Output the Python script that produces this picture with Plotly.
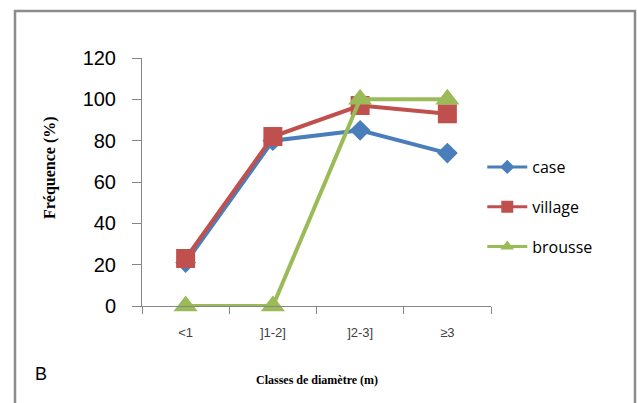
import plotly.graph_objects as go

# Diameter classes and frequency (%) per habitat
categories = ["<1", "]1-2]", "]2-3]", "≥3"]
case = [21, 80, 85, 74]
village = [23, 82, 97, 93]
brousse = [0, 0, 100, 100]

fig = go.Figure()

series = [
    ("case", case, "#4A7EBB", "diamond", 16, 11),
    ("village", village, "#C0504D", "square", 19, 12),
    ("brousse", brousse, "#9BBB59", "triangle-up", 21, 12),
]
for name, vals, color, symbol, msize, lsize in series:
    fig.add_trace(go.Scatter(
        x=categories, y=vals, name=name, legendgroup=name, showlegend=False,
        mode="lines+markers", cliponaxis=False,
        line=dict(color=color, width=4),
        marker=dict(symbol=symbol, size=msize, color=color),
    ))
    # legend entry with smaller symbol
    fig.add_trace(go.Scatter(
        x=[None], y=[None], name=name, legendgroup=name, showlegend=True,
        mode="lines+markers",
        line=dict(color=color, width=3),
        marker=dict(symbol=symbol, size=lsize, color=color),
    ))

axis_gray = "#868686"
fig.update_layout(
    width=637, height=403,
    margin=dict(l=142, r=146, t=58, b=97),
    paper_bgcolor="white", plot_bgcolor="white",
    showlegend=True,
    legend=dict(
        x=0.975, y=(306 - 207) / 248, xanchor="left", yanchor="middle",
        font=dict(family="Open Sans, Liberation Sans, Arial", size=16, color="black"),
        tracegroupgap=16, itemwidth=40,
        bgcolor="rgba(0,0,0,0)",
    ),
    xaxis=dict(
        type="category", range=[-0.5, 3.5],
        showline=True, linecolor=axis_gray, linewidth=1,
        ticks="outside", ticklen=7, tickcolor=axis_gray, tickson="boundaries",
        tickfont=dict(family="Liberation Sans, Arial", size=13, color="#404040"),
        ticklabelstandoff=14,
        showgrid=False, zeroline=False,
    ),
    yaxis=dict(
        range=[0, 120], dtick=20,
        showline=True, linecolor=axis_gray, linewidth=1,
        ticks="outside", ticklen=9, tickcolor=axis_gray,
        tickfont=dict(family="Liberation Sans, Arial", size=20, color="black"),
        ticklabelstandoff=12,
        showgrid=False, zeroline=False,
    ),
    annotations=[
        dict(text="<b>Fréquence (%)</b>", textangle=-90,
             xref="paper", yref="paper", x=(50 - 142) / 349, y=(306 - 168) / 248,
             xanchor="center", yanchor="middle", showarrow=False,
             font=dict(family="Liberation Serif, Times New Roman", size=16, color="black")),
        dict(text="<b>Classes de diamètre (m)</b>",
             xref="paper", yref="paper", x=(317 - 142) / 349, y=(306 - 380) / 248,
             xanchor="center", yanchor="middle", showarrow=False,
             font=dict(family="Liberation Serif, Times New Roman", size=12, color="black")),
        dict(text="B",
             xref="paper", yref="paper", x=(41 - 142) / 349, y=(306 - 374) / 248,
             xanchor="center", yanchor="middle", showarrow=False,
             font=dict(family="Liberation Sans, Arial", size=18, color="black")),
    ],
    shapes=[
        dict(type="rect", xref="paper", yref="paper",
             x0=(15 - 142) / 349, x1=(635 - 142) / 349,
             y0=(306 - 420) / 248, y1=(306 - 11) / 248,
             line=dict(color="#8C8C8C", width=2.5), fillcolor="rgba(0,0,0,0)",
             layer="below"),
    ],
)

fig.write_html("out.html")
